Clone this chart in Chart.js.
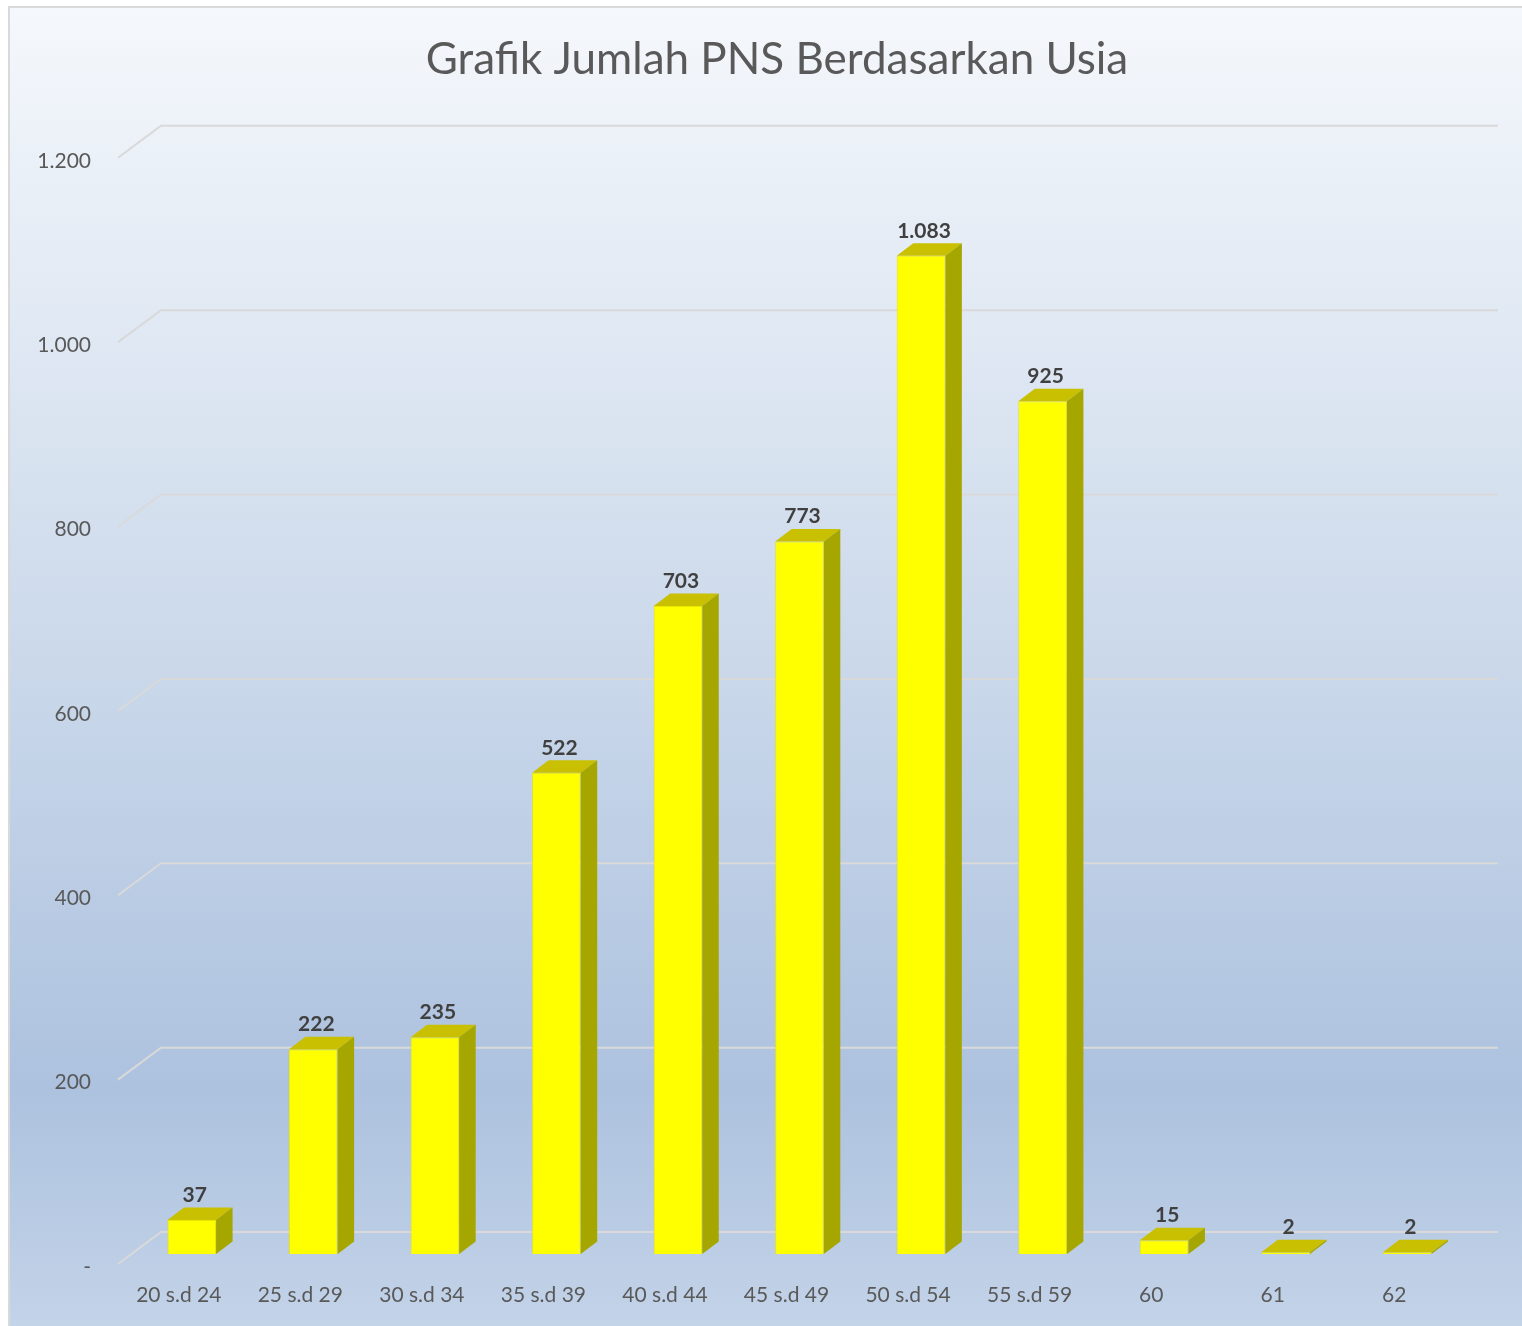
<!DOCTYPE html>
<html>
<head>
<meta charset="utf-8">
<script src="https://cdn.jsdelivr.net/npm/chart.js@4/dist/chart.umd.min.js"></script>
<style>
  html, body { margin: 0; padding: 0; background: #ffffff; }
  #wrap { position: absolute; left: 0; top: 0; width: 1522px; height: 1326px; }
</style>
</head>
<body>
<div id="wrap"><canvas id="c" width="1522" height="1326"></canvas></div>
<script>
const categories = ["20 s.d 24", "25 s.d 29", "30 s.d 34", "35 s.d 39", "40 s.d 44", "45 s.d 49", "50 s.d 54", "55 s.d 59", "60", "61", "62"];
const jumlahPNS = [37, 222, 235, 522, 703, 773, 1083, 925, 15, 2, 2];
const yTicks = [0, 200, 400, 600, 800, 1000, 1200];
const titleText = "Grafik Jumlah PNS Berdasarkan Usia";

const FONT = "Lato, 'Open Sans', 'DejaVu Sans', sans-serif";
const fmt = v => v === 0 ? "-" : v.toLocaleString("de-DE");

// depth geometry of the 3D look
const WALL = { dx: 43, dy: -32 };   // back wall offset from front plane
const BARPLANE = { dx: 13, dy: -10 }; // bar front plane offset
const BARDEPTH = { dx: 16.5, dy: -12.5 };

const backgroundPlugin = {
  id: 'bg',
  beforeDraw(chart) {
    const ctx = chart.ctx;
    ctx.save();
    const g = ctx.createLinearGradient(0, 7, 0, chart.height);
    g.addColorStop(0, '#F5F8FC');
    g.addColorStop(0.5, '#CAD8EA');
    g.addColorStop(0.82, '#ADC2DF');
    g.addColorStop(1, '#C3D3E8');
    ctx.fillStyle = g;
    ctx.fillRect(9, 7, chart.width - 9, chart.height - 7);
    ctx.strokeStyle = '#D9D9D9';
    ctx.lineWidth = 2;
    ctx.beginPath();
    ctx.moveTo(9, chart.height);
    ctx.lineTo(9, 7);
    ctx.lineTo(chart.width, 7);
    ctx.stroke();
    ctx.restore();
  }
};

const wallGridPlugin = {
  id: 'wallGrid',
  beforeDatasetsDraw(chart) {
    const ctx = chart.ctx, y = chart.scales.y, a = chart.chartArea;
    ctx.save();
    ctx.strokeStyle = '#D9D9D9';
    ctx.lineWidth = 2;
    yTicks.forEach(v => {
      const py = y.getPixelForValue(v);
      ctx.beginPath();
      ctx.moveTo(a.left, py);
      ctx.lineTo(a.left + WALL.dx, py + WALL.dy);
      ctx.lineTo(a.right + WALL.dx, py + WALL.dy);
      ctx.stroke();
    });
    ctx.restore();
    ctx.save();
    ctx.translate(BARPLANE.dx, BARPLANE.dy);
  },
  afterDatasetsDraw(chart) {
    const ctx = chart.ctx;
    const meta = chart.getDatasetMeta(0);
    meta.data.forEach((bar, i) => {
      const p = bar.getProps(['x', 'y', 'base', 'width'], true);
      const L = p.x - p.width / 2, R = p.x + p.width / 2;
      const top = Math.min(p.y, p.base), bot = Math.max(p.y, p.base);
      // top face
      ctx.fillStyle = '#C8C000';
      ctx.beginPath();
      ctx.moveTo(L, top);
      ctx.lineTo(R, top);
      ctx.lineTo(R + BARDEPTH.dx, top + BARDEPTH.dy);
      ctx.lineTo(L + BARDEPTH.dx, top + BARDEPTH.dy);
      ctx.closePath();
      ctx.fill();
      // right face
      ctx.fillStyle = '#A6A600';
      ctx.beginPath();
      ctx.moveTo(R, top);
      ctx.lineTo(R + BARDEPTH.dx, top + BARDEPTH.dy);
      ctx.lineTo(R + BARDEPTH.dx, bot + BARDEPTH.dy);
      ctx.lineTo(R, bot);
      ctx.closePath();
      ctx.fill();
      // data label
      ctx.fillStyle = '#404040';
      ctx.font = "bold 21px " + FONT;
      ctx.textAlign = 'center';
      ctx.textBaseline = 'alphabetic';
      ctx.fillText(fmt(jumlahPNS[i]), p.x + 3, top - 18);
    });
    ctx.restore();
  }
};

new Chart(document.getElementById('c'), {
  type: 'bar',
  data: {
    labels: categories,
    datasets: [{
      label: 'Jumlah PNS',
      data: jumlahPNS,
      backgroundColor: '#FFFF00',
      borderColor: '#E8E800',
      borderWidth: 1,
      categoryPercentage: 1.0,
      barPercentage: 0.4
    }]
  },
  options: {
    responsive: false,
    animation: false,
    devicePixelRatio: 1,
    layout: { padding: { left: 32, right: 0, top: 0, bottom: 0 } },
    plugins: {
      legend: { display: false },
      tooltip: { enabled: false },
      title: {
        display: true,
        text: titleText,
        color: '#595959',
        font: { family: FONT, size: 44, weight: 'normal', lineHeight: 1.2 },
        padding: { top: 33, bottom: 72 }
      }
    },
    scales: {
      x: {
        grid: { display: false },
        border: { display: false },
        ticks: { color: '#595959', font: { family: FONT, size: 21 }, padding: 11, maxRotation: 0, autoSkip: false },
        afterFit(s) { s.height = 62; }
      },
      y: {
        min: 0, max: 1200,
        afterBuildTicks(s) { s.ticks = yTicks.map(v => ({ value: v })); },
        grid: { display: false },
        border: { display: false },
        ticks: { color: '#595959', font: { family: FONT, size: 21 }, padding: 19, labelOffset: 3, callback: v => fmt(v) },
        afterFit(s) { s.width = 86; }
      },
      y2: {
        type: 'linear', position: 'right', display: true,
        grid: { display: false }, border: { display: false },
        ticks: { display: false },
        afterFit(s) { s.width = 67; }
      }
    }
  },
  plugins: [backgroundPlugin, wallGridPlugin]
});
</script>
</body>
</html>
